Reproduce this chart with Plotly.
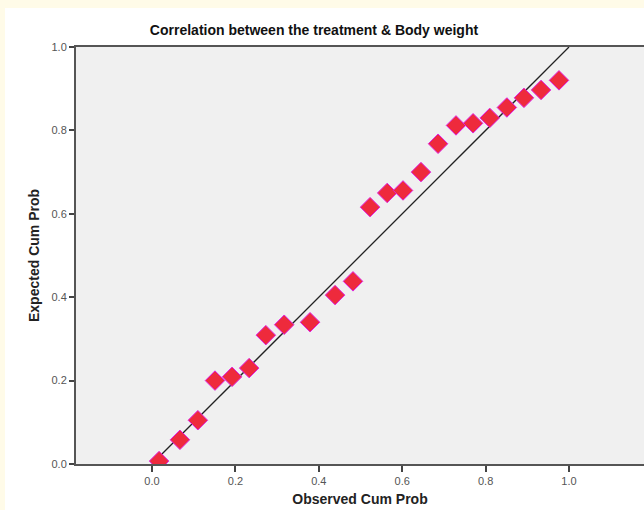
import plotly.graph_objects as go

observed = [0.017, 0.067, 0.110, 0.151, 0.192, 0.233, 0.273, 0.317, 0.379, 0.439, 0.482,
            0.523, 0.564, 0.602, 0.645, 0.686, 0.729, 0.770, 0.810, 0.851, 0.892, 0.933, 0.976]
expected = [0.007, 0.058, 0.105, 0.200, 0.209, 0.230, 0.309, 0.334, 0.340, 0.405, 0.438,
            0.616, 0.650, 0.656, 0.700, 0.768, 0.812, 0.817, 0.830, 0.855, 0.878, 0.897, 0.920]
ref_line = [0.0, 1.0]
tick_vals = [0.0, 0.2, 0.4, 0.6, 0.8, 1.0]
tick_text = ["0.0", "0.2", "0.4", "0.6", "0.8", "1.0"]

fig = go.Figure()
fig.add_trace(go.Scatter(x=ref_line, y=ref_line, mode="lines",
                         line=dict(color="#222222", width=1.3), hoverinfo="skip", showlegend=False))
fig.add_trace(go.Scatter(x=observed, y=expected, mode="markers",
                         marker=dict(symbol="diamond", size=15, color="#ee2a3c",
                                     line=dict(color="#e020e0", width=1)),
                         showlegend=False))

W, H = 644, 510
ml, mr, mt, mb = 76, 0, 47, 46
pw, ph = W - ml - mr, H - mt - mb
unit = 417.0

cream = "#fffbe8"
fig.add_shape(type="rect", xref="paper", yref="paper",
              x0=-ml / pw - 0.01, x1=1.01, y0=(ph + mt - 8) / ph, y1=(ph + mt) / ph + 0.01,
              fillcolor=cream, line=dict(width=0), layer="below")
fig.add_shape(type="rect", xref="paper", yref="paper",
              x0=-ml / pw - 0.01, x1=(5 - ml) / pw, y0=-mb / ph - 0.01, y1=(ph + mt) / ph + 0.01,
              fillcolor=cream, line=dict(width=0), layer="below")

axis_font = dict(family="Arial, Liberation Sans, sans-serif", size=11, color="#555555")
title_font = dict(family="Arial, Liberation Sans, sans-serif", size=14, color="#222222")

fig.update_layout(
    width=W, height=H,
    margin=dict(l=ml, r=mr, t=mt, b=mb, pad=0),
    paper_bgcolor="white", plot_bgcolor="#f0f0f0",
    title=dict(text="<b>Correlation between the treatment &amp; Body weight</b>",
               x=314 / W, xanchor="center", y=1 - 30 / H, yanchor="middle",
               font=dict(family="Liberation Sans Narrow, Arial Narrow, sans-serif", size=14, color="#111111")),
    xaxis=dict(range=[-ml / unit, -ml / unit + pw / unit], showgrid=False, zeroline=False,
               tickvals=tick_vals, ticktext=tick_text, ticks="outside", ticklen=6, tickwidth=1.5,
               tickcolor="#444444", showline=True, linecolor="#555555", linewidth=2, mirror=True,
               tickfont=axis_font,
               title=dict(text="<b>Observed Cum Prob</b>", standoff=8, font=title_font)),
    yaxis=dict(range=[0, 1.0], showgrid=False, zeroline=False,
               tickvals=tick_vals, ticktext=tick_text, ticks="outside", ticklen=5, tickwidth=1.5,
               tickcolor="#444444", showline=True, linecolor="#555555", linewidth=2,
               tickfont=axis_font,
               title=dict(text="<b>Expected Cum Prob</b>", standoff=9, font=title_font)),
)

fig.write_html("out.html", config={"displayModeBar": False},
               post_script="document.body.style.margin='0';document.body.style.overflow='hidden';")
